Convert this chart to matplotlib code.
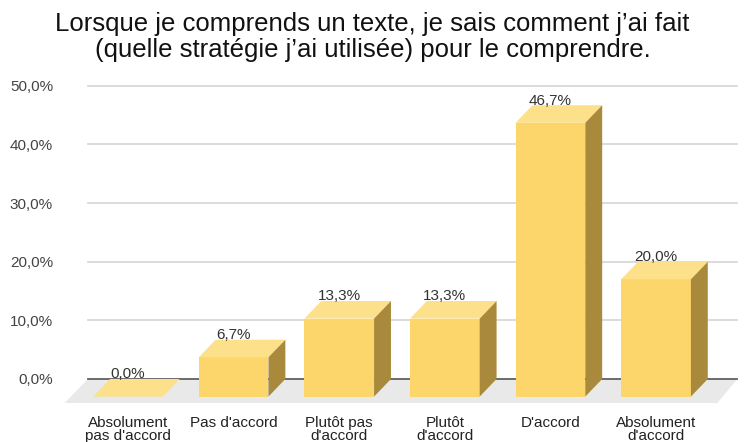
import matplotlib
matplotlib.use("Agg")
import matplotlib.pyplot as plt
from matplotlib.patches import Polygon

# data
categories = ["Absolument\npas d'accord", "Pas d'accord", "Plutôt pas\nd'accord",
              "Plutôt\nd'accord", "D'accord", "Absolument\nd'accord"]
values = [0.0, 6.7, 13.3, 13.3, 46.7, 20.0]
yticks = [0, 10, 20, 30, 40, 50]
title = ("Lorsque je comprends un texte, je sais comment j\u2019ai fait\n"
         "(quelle stratégie j\u2019ai utilisée) pour le comprendre.")

FRONT = "#fcd66b"
TOP = "#fde08a"
SIDE = "#a98a3c"
FLOOR = "#e9e9e9"
GRID = "#d9d9d9"

W = 0.66    # bar front width (category units)
DX = 0.16   # depth offset, x
DY = 3.0    # depth offset, y (percent units)

plt.rcParams["font.family"] = ["Liberation Sans", "DejaVu Sans"]

fig = plt.figure(figsize=(7.45, 4.42), dpi=100)
ax = fig.add_axes([60 / 745, 32 / 442, 680 / 745, 330 / 442])
ax.set_xlim(-0.644, 5.795)
ax.set_ylim(-5.29, 51.0)
for s in ax.spines.values():
    s.set_visible(False)

# back-wall grid + floor
gx0, gx1 = -0.38, 5.77
for t in yticks[1:]:
    ax.plot([gx0, gx1], [t, t], color=GRID, lw=1.3, zorder=1)
ax.add_patch(Polygon([(-0.60, -4.1), (5.58, -4.1), (gx1, 0), (gx0, 0)],
                     closed=True, facecolor=FLOOR, edgecolor="none", zorder=1))
ax.plot([gx0, gx1], [0, 0], color="#606060", lw=1.3, zorder=2)

xs = list(range(len(values)))
ax.bar(xs, values, width=W, bottom=-DY, color=FRONT, zorder=3)
for x, v in zip(xs, values):
    l, r = x - W / 2, x + W / 2
    ax.add_patch(Polygon([(l, v - DY), (r, v - DY), (r + DX, v), (l + DX, v)],
                         closed=True, facecolor=TOP, edgecolor="none", zorder=3))
    ax.add_patch(Polygon([(r, -DY), (r + DX, 0), (r + DX, v), (r, v - DY)],
                         closed=True, facecolor=SIDE, edgecolor="none", zorder=3))
    ax.text(x, v - 0.4, f"{v:.1f}%".replace(".", ","), ha="center", va="bottom",
            fontsize=11, color="#333333", zorder=4)

ax.set_yticks(yticks)
ax.set_yticklabels([f"{t:.1f}%".replace(".", ",") for t in yticks],
                   fontsize=11, color="#444444")
ax.set_xticks(xs)
ax.set_xticklabels(categories, fontsize=11, color="#222222", linespacing=0.9)
ax.tick_params(axis="both", length=0)
ax.tick_params(axis="y", pad=5)
ax.tick_params(axis="x", pad=4.5)

fig.suptitle(title, fontsize=18.5, color="#111111", y=0.972, linespacing=1.08)

fig.savefig("out.png", dpi=100)
